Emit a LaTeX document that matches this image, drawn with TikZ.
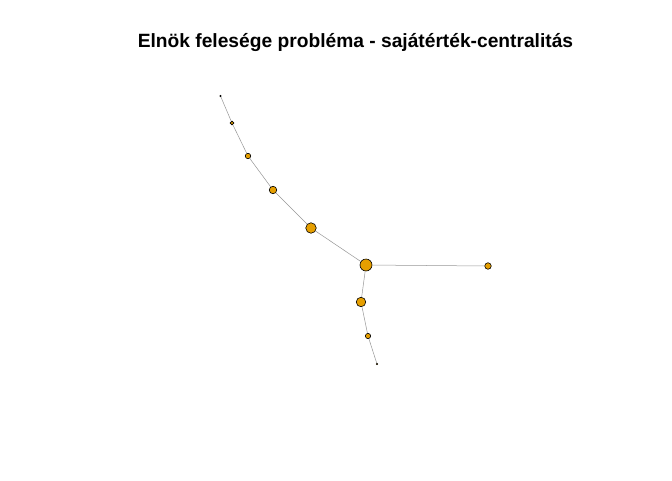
\documentclass[tikz,border=0pt]{standalone}
\usepackage{fontspec}
\setmainfont{Liberation Sans}
\usepackage{tikz}
\definecolor{vertexfill}{RGB}{230,159,0}
\definecolor{edgegray}{RGB}{150,150,150}
\begin{document}
\begin{tikzpicture}[x=1pt,y=-1pt]
\tikzstyle{vertex}=[circle,draw=black,fill=vertexfill,line width=0.6pt,inner sep=0pt]
\tikzstyle{edge}=[draw=edgegray,line width=0.5pt]
\useasboundingbox (0,0) rectangle (672,480);
\node [font=\bfseries\fontsize{19.2}{23}\selectfont] (title) at (355.5,42) {Elnök felesége probléma - sajátérték-centralitás};
% csucsok
\node [vertex,minimum size=1.2pt] (v1) at (220.5,96) {};
\node [vertex,minimum size=3.8pt] (v2) at (232,123) {};
\node [vertex,minimum size=5.5pt] (v3) at (248,156) {};
\node [vertex,minimum size=7.5pt] (v4) at (273,190) {};
\node [vertex,minimum size=10.5pt] (v5) at (311,228) {};
\node [vertex,minimum size=12pt] (v6) at (366,265) {};
\node [vertex,minimum size=6.5pt] (v7) at (488,266) {};
\node [vertex,minimum size=9.5pt] (v8) at (361,302) {};
\node [vertex,minimum size=5.3pt] (v9) at (368,336) {};
\node [vertex,minimum size=1.5pt] (v10) at (377,364) {};
% elek
\foreach \a/\b in {v1/v2,v2/v3,v3/v4,v4/v5,v5/v6,v6/v7,v6/v8,v8/v9,v9/v10}
  \draw [edge] (\a) -- (\b);
\end{tikzpicture}
\end{document}
